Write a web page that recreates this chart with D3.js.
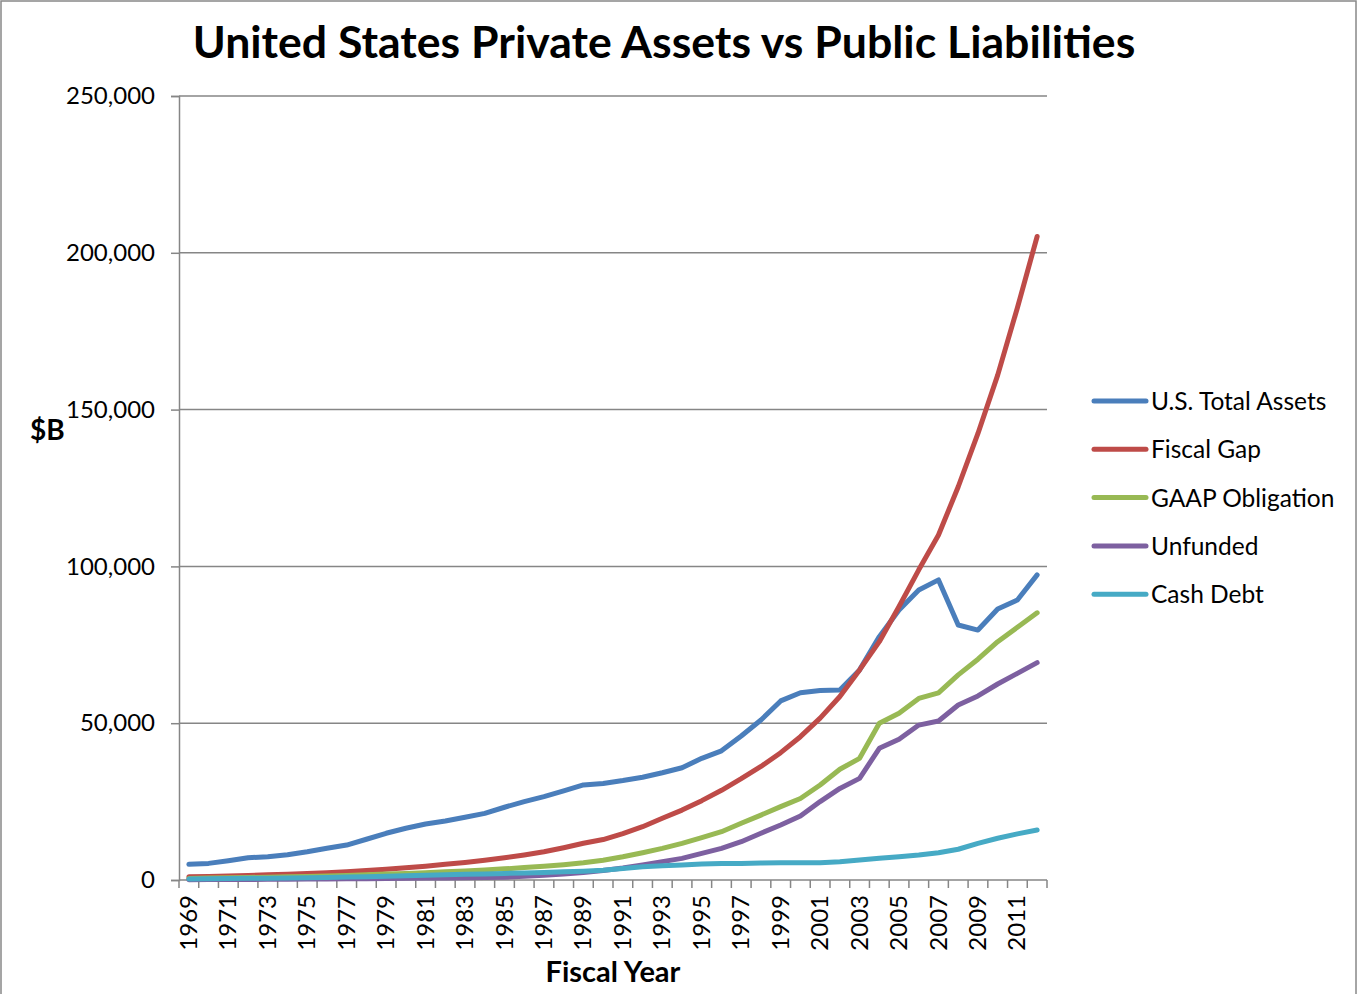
<!DOCTYPE html>
<html>
<head>
<meta charset="utf-8">
<title>United States Private Assets vs Public Liabilities</title>
<script src="https://d3js.org/d3.v7.min.js"></script>
<style>
body { margin: 0; background: #fff; }
text { font-family: Lato, "Open Sans", sans-serif; fill: #000; }
</style>
</head>
<body>
<svg id="chart" width="1358" height="994"></svg>
<script>
// data ($B)
var years = d3.range(1969, 2013);
var totalAssets = [5000, 5300, 6150, 7100, 7450, 8050, 9000, 10100, 11150, 13000,
  14900, 16500, 17850, 18800, 20000, 21250, 23200, 25000, 26600, 28400,
  30300, 30800, 31700, 32750, 34200, 35800, 38800, 41200, 45900, 51000,
  57100, 59700, 60400, 60600, 67000, 77600, 86100, 92500, 95700, 81300,
  79700, 86400, 89300, 97300];
var fiscalGap = [1000, 1150, 1300, 1450, 1650, 1850, 2100, 2350, 2650, 3000,
  3400, 3900, 4400, 5000, 5600, 6300, 7100, 8000, 9000, 10300,
  11700, 12900, 14800, 17000, 19700, 22300, 25300, 28600, 32300, 36200,
  40600, 45700, 51600, 58500, 67000, 76000, 87200, 98900, 110000, 125400,
  142400, 161000, 182500, 205200];
var gaap = [500, 600, 700, 800, 900, 1000, 1150, 1300, 1450, 1650,
  1900, 2100, 2350, 2600, 2900, 3200, 3550, 3950, 4400, 4900,
  5500, 6300, 7400, 8700, 10100, 11700, 13500, 15400, 18100, 20700,
  23400, 26000, 30300, 35300, 38800, 50000, 53200, 57900, 59700, 65400,
  70400, 76000, 80600, 85200];
var unfunded = [100, 120, 150, 180, 210, 250, 290, 330, 380, 430,
  480, 540, 600, 670, 740, 820, 900, 1200, 1500, 1900,
  2400, 3000, 3800, 4800, 5850, 6900, 8500, 10100, 12200, 14900,
  17550, 20400, 25000, 29200, 32400, 42000, 44900, 49400, 50700, 55800,
  58700, 62500, 65900, 69300];
var cashDebt = [350, 400, 450, 520, 580, 640, 720, 820, 930, 1050,
  1200, 1350, 1500, 1650, 1800, 1950, 2100, 2250, 2400, 2600,
  2800, 3100, 3700, 4250, 4550, 4800, 5100, 5300, 5300, 5400,
  5500, 5500, 5500, 5850, 6400, 6900, 7450, 8000, 8700, 9800,
  11700, 13300, 14700, 15950];
var seriesNames = ["U.S. Total Assets", "Fiscal Gap", "GAAP Obligation", "Unfunded", "Cash Debt"];
var seriesColors = ["#4A7EBB", "#BE4B48", "#98B954", "#7D60A0", "#46AAC5"];
var yTicks = [0, 50000, 100000, 150000, 200000, 250000];

var series = [totalAssets, fiscalGap, gaap, unfunded, cashDebt];

var svg = d3.select("#chart");
var plotLeft = 179, plotRight = 1047, plotTop = 96, plotBottom = 880;

// outer frame
svg.append("rect")
  .attr("x", 1).attr("y", 1).attr("width", 1355).attr("height", 1010)
  .attr("fill", "none").attr("stroke", "#888").attr("stroke-width", 1.5);

var x = d3.scaleBand().domain(years).range([plotLeft, plotRight]);
var y = d3.scaleLinear().domain([0, 250000]).range([plotBottom, plotTop]);

// gridlines
svg.append("g").selectAll("line").data(yTicks.slice(1)).join("line")
  .attr("x1", plotLeft).attr("x2", plotRight)
  .attr("y1", d => y(d)).attr("y2", d => y(d))
  .attr("stroke", "#868686").attr("stroke-width", 1.5);

// y axis
var yAxis = d3.axisLeft(y).tickValues(yTicks).tickSize(8).tickPadding(16)
  .tickFormat(d3.format(","));
var gy = svg.append("g").attr("transform", "translate(" + plotLeft + ",0)").call(yAxis);
gy.select(".domain").attr("stroke", "#868686").attr("stroke-width", 1.5);
gy.selectAll(".tick line").attr("stroke", "#868686").attr("stroke-width", 1.5);
gy.selectAll(".tick text").attr("font-size", 24).attr("font-family", "Lato, sans-serif");

// x axis: ticks at category boundaries
svg.append("line").attr("x1", plotLeft).attr("x2", plotRight).attr("y1", plotBottom).attr("y2", plotBottom)
  .attr("stroke", "#868686").attr("stroke-width", 1.5);
var bounds = years.map(d => x(d)).concat([plotRight]);
svg.append("g").selectAll("line").data(bounds).join("line")
  .attr("x1", d => d).attr("x2", d => d).attr("y1", plotBottom).attr("y2", plotBottom + 8)
  .attr("stroke", "#868686").attr("stroke-width", 1.5);
svg.append("g").selectAll("text").data(years.filter(d => (d - 1969) % 2 === 0)).join("text")
  .attr("transform", d => "translate(" + (x(d) + x.bandwidth() / 2 + 8) + "," + (plotBottom + 15) + ") rotate(-90)")
  .attr("text-anchor", "end")
  .attr("font-size", 24)
  .text(d => d);

// lines
var line = d3.line()
  .x((d, i) => x(years[i]) + x.bandwidth() / 2)
  .y(d => y(d));
svg.append("g").selectAll("path").data(series).join("path")
  .attr("d", d => line(d))
  .attr("fill", "none")
  .attr("stroke", (d, i) => seriesColors[i])
  .attr("stroke-width", 5)
  .attr("stroke-linejoin", "round")
  .attr("stroke-linecap", "round");

// title and axis titles
svg.append("text").attr("x", 664).attr("y", 58).attr("text-anchor", "middle")
  .attr("font-size", 44.6).attr("font-weight", "bold")
  .text("United States Private Assets vs Public Liabilities");
svg.append("text").attr("x", 613).attr("y", 982).attr("text-anchor", "middle")
  .attr("font-size", 29).attr("font-weight", "bold").text("Fiscal Year");
svg.append("text").attr("x", 30).attr("y", 440)
  .attr("font-size", 28).attr("font-weight", "bold").text("$B");

// legend
var legend = svg.append("g").selectAll("g").data(seriesNames).join("g")
  .attr("transform", (d, i) => "translate(1094," + (401 + i * 48.3) + ")");
legend.append("line").attr("x1", 0).attr("x2", 52).attr("y1", 0).attr("y2", 0)
  .attr("stroke", (d, i) => seriesColors[i]).attr("stroke-width", 5)
  .attr("stroke-linecap", "round");
legend.append("text").attr("x", 57).attr("y", 9).attr("font-size", 24.5).text(d => d);
</script>
</body>
</html>
